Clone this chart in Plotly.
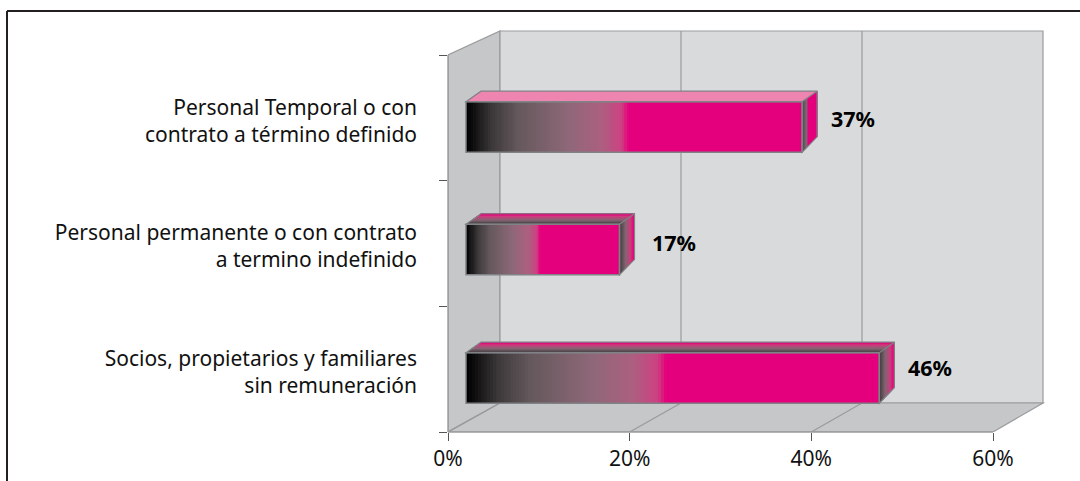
import plotly.graph_objects as go

# ---------- data ----------
categories = [
    "Socios, propietarios y familiares<br>sin remuneración",
    "Personal permanente o con contrato<br>a termino indefinido",
    "Personal Temporal o con<br>contrato a término definido",
]
bar_lengths = [45.5, 16.9, 37.0]
data_labels = ["46%", "17%", "37%"]
x_ticks = [0, 20, 40, 60]
x_tick_labels = ["0%", "20%", "40%", "60%"]

# ---------- layout constants ----------
W, H = 1080, 481
X0_PX, X60_PX = 448, 993
BACK_LEFT_PX, BACK_RIGHT_PX = 500, 1043
FLOOR_PX, TOP_PX = 432, 31
CAT_TOP_PX = 55
PLOT_RIGHT_PX, PLOT_TOP_PX = 1047, 27
PX_PCT = (X60_PX - X0_PX) / 60
PX_CAT = (FLOOR_PX - CAT_TOP_PX) / 3
X_MAX = (PLOT_RIGHT_PX - X0_PX) / PX_PCT
Y_MIN = -0.5
Y_MAX = Y_MIN + (FLOOR_PX - PLOT_TOP_PX) / PX_CAT
Y_WALL_TOP = Y_MIN + (FLOOR_PX - TOP_PX) / PX_CAT

WALL_DX = (BACK_LEFT_PX - X0_PX) / PX_PCT
BACK_SCALE = (BACK_RIGHT_PX - BACK_LEFT_PX) / (X60_PX - X0_PX)
FLOOR_DY = (FLOOR_PX - 403) / PX_CAT

BAR_X0 = 18 / PX_PCT
BAR_HALF = 25.3 / PX_CAT
BAR_SHIFT = [-0.07, -0.048, -0.073]
DEPTH_DX = 15 / PX_PCT
DEPTH_DY_TOP = 10.5 / PX_CAT
DEPTH_DY_BOT = 15.5 / PX_CAT
LABEL_DX = [51, 54, 51]
LABEL_DY = [2, 1, -1]

WALL_BACK = "#D9DADC"
WALL_SIDE = "#C6C7C9"
GRID = "#9A9B9D"
EDGE = "#808285"
PINK = (228, 0, 124)
FONT = "Noto Sans"
TEXT = "#111111"

FRONT_STOPS = [
    (0.0, (0, 0, 0)), (0.07, (58, 54, 56)), (0.15, (100, 88, 92)),
    (0.30, (142, 104, 120)), (0.40, (172, 95, 128)), (0.46, (205, 65, 130)),
    (0.48, PINK), (1.0, PINK),
]
DEPTH_STOPS = [(0.0, (66, 62, 64)), (0.35, (130, 100, 114)), (0.7, (205, 60, 125)), (0.9, PINK), (1.0, PINK)]
SIDE_BAR1_STOPS = [(0.0, (80, 76, 78)), (0.28, (130, 110, 120)), (0.34, PINK), (1.0, PINK)]
TOP_BAR1_STOPS = [(0.0, (238, 133, 176)), (1.0, (238, 133, 176))]


def back_x(v):
    return WALL_DX + v * BACK_SCALE


def ramp(stops, t):
    for (a, ca), (b, cb) in zip(stops, stops[1:]):
        if t <= b:
            f = 0 if b == a else (t - a) / (b - a)
            c = [round(p + (q - p) * f) for p, q in zip(ca, cb)]
            return f"rgb({c[0]},{c[1]},{c[2]})"
    c = stops[-1][1]
    return f"rgb({c[0]},{c[1]},{c[2]})"


def poly(points):
    return "M " + " L ".join(f"{x:.4f},{y:.4f}" for x, y in points) + " Z"


def face(points, color=None, layer="above", line=None, width=0):
    d = dict(type="path", xref="x", yref="y", path=poly(points), layer=layer)
    d["fillcolor"] = color if color else "rgba(0,0,0,0)"
    d["line"] = dict(color=line, width=width) if line else dict(width=0)
    return d


shapes = []
# walls and floor
floor_back = Y_MIN + FLOOR_DY
shapes.append(face([(0, Y_MIN), (0, 2.5), (back_x(0), Y_WALL_TOP), (back_x(0), floor_back)],
                   WALL_SIDE, "below", GRID, 1.2))
shapes.append(face([(back_x(0), floor_back), (back_x(0), Y_WALL_TOP),
                    (back_x(x_ticks[-1]), Y_WALL_TOP), (back_x(x_ticks[-1]), floor_back)],
                   WALL_BACK, "below", GRID, 1.2))
shapes.append(face([(0, Y_MIN), (back_x(0), floor_back), (back_x(x_ticks[-1]), floor_back), (x_ticks[-1], Y_MIN)],
                   WALL_SIDE, "below", GRID, 1.2))
for v in x_ticks[1:-1]:
    shapes.append(dict(type="line", xref="x", yref="y", x0=back_x(v), x1=back_x(v),
                       y0=floor_back, y1=Y_WALL_TOP, layer="below", line=dict(color=GRID, width=1.2)))
for v in x_ticks[:-1]:
    shapes.append(dict(type="line", xref="x", yref="y", x0=v, x1=back_x(v),
                       y0=Y_MIN, y1=floor_back, layer="below", line=dict(color=GRID, width=1.2)))
# front edges of the floor and left wall (plot-area edges, so drawn unclipped)
shapes.append(dict(type="line", xref="paper", yref="paper", x0=X0_PX / W, x1=X0_PX / W,
                   y0=1 - FLOOR_PX / H, y1=1 - CAT_TOP_PX / H, line=dict(color=GRID, width=1.4)))
shapes.append(dict(type="line", xref="paper", yref="paper", x0=X0_PX / W, x1=X60_PX / W,
                   y0=1 - FLOOR_PX / H, y1=1 - FLOOR_PX / H, line=dict(color=GRID, width=1.4)))

# outer frame (open on the right and at the bottom)
shapes.append(dict(type="line", xref="paper", yref="paper", x0=7 / W, x1=7 / W, y0=0, y1=1 - 11 / H,
                   line=dict(color="#231F20", width=2)))
shapes.append(dict(type="line", xref="paper", yref="paper", x0=7 / W, x1=1, y0=1 - 11 / H, y1=1 - 11 / H,
                   line=dict(color="#231F20", width=2)))

fig = go.Figure()
N_FRONT = 140
N_DEPTH = 14
for i, (cat, length) in enumerate(zip(categories, bar_lengths)):
    ts = [k / N_FRONT for k in range(N_FRONT)]
    fig.add_trace(go.Bar(
        y=[cat] * N_FRONT,
        x=[(1 - t) * length for t in ts],
        base=[BAR_X0 + t * length for t in ts],
        orientation="h",
        width=2 * BAR_HALF,
        offset=BAR_SHIFT[i] - BAR_HALF,
        marker=dict(color=[ramp(FRONT_STOPS, t) for t in ts], line=dict(width=0)),
        hoverinfo="skip",
        showlegend=False,
    ))
    xl, xr = BAR_X0, BAR_X0 + length
    yb, yt = i + BAR_SHIFT[i] - BAR_HALF, i + BAR_SHIFT[i] + BAR_HALF
    side_stops = SIDE_BAR1_STOPS if i == 2 else DEPTH_STOPS
    top_stops = TOP_BAR1_STOPS if i == 2 else DEPTH_STOPS
    for k in range(N_DEPTH):
        t = k / N_DEPTH
        # top face: from the front edge towards the back
        shapes.append(face([(xl + t * DEPTH_DX, yt + t * DEPTH_DY_TOP),
                            (xl + DEPTH_DX, yt + DEPTH_DY_TOP),
                            (xr + DEPTH_DX, yt + DEPTH_DY_TOP),
                            (xr + t * DEPTH_DX, yt + t * DEPTH_DY_TOP)], ramp(top_stops, t)))
        # side face
        shapes.append(face([(xr + t * DEPTH_DX, yt + t * DEPTH_DY_TOP),
                            (xr + DEPTH_DX, yt + DEPTH_DY_TOP),
                            (xr + DEPTH_DX, yb + DEPTH_DY_BOT),
                            (xr + t * DEPTH_DX, yb + t * DEPTH_DY_BOT)], ramp(side_stops, t)))
    # edges
    shapes.append(face([(xl, yb), (xl, yt), (xr, yt), (xr, yb)], None, "above", EDGE, 1.5))
    shapes.append(face([(xl, yt), (xl + DEPTH_DX, yt + DEPTH_DY_TOP), (xr + DEPTH_DX, yt + DEPTH_DY_TOP),
                        (xr + DEPTH_DX, yb + DEPTH_DY_BOT), (xr, yb), (xr, yt)], None, "above", EDGE, 1.2))
    shapes.append(dict(type="line", xref="x", yref="y", x0=xr, x1=xr + DEPTH_DX, y0=yt, y1=yt + DEPTH_DY_TOP,
                       layer="above", line=dict(color=EDGE, width=1.2)))

annotations = [
    dict(x=BAR_X0 + length, y=i, xref="x", yref="y", text=f"<b>{lab}</b>", showarrow=False,
         xshift=LABEL_DX[i], yshift=LABEL_DY[i],
         font=dict(family=FONT, size=21.5, color="#000000"))
    for i, (length, lab) in enumerate(zip(bar_lengths, data_labels))
]

fig.update_layout(
    width=W, height=H, template="none",
    margin=dict(l=0, r=0, t=0, b=0, pad=0),
    paper_bgcolor="white", plot_bgcolor="rgba(0,0,0,0)",
    barmode="overlay", bargap=0, showlegend=False, hovermode=False,
    shapes=shapes, annotations=annotations,
    font=dict(family=FONT, size=21, color=TEXT),
    xaxis=dict(
        domain=[X0_PX / W, PLOT_RIGHT_PX / W], range=[0, X_MAX], type="linear",
        tickmode="array", tickvals=x_ticks, ticktext=x_tick_labels,
        ticks="outside", ticklen=8, tickwidth=1.2, tickcolor="#555555",
        showgrid=False, zeroline=False, showline=False, automargin=False,
        tickfont=dict(family=FONT, size=21, color=TEXT),
    ),
    yaxis=dict(
        domain=[1 - FLOOR_PX / H, 1 - PLOT_TOP_PX / H], range=[Y_MIN, Y_MAX], type="category",
        categoryorder="array", categoryarray=categories,
        tickson="boundaries", ticks="outside", ticklen=8, tickwidth=1.2, tickcolor="#555555",
        ticklabelstandoff=30, ticklabelshift=3,
        showgrid=False, zeroline=False, showline=False, automargin=False,
        tickfont=dict(family=FONT, size=21, color=TEXT),
    ),
)

fig.write_html("out.html", config={"displayModeBar": False},
               post_script="document.body.style.margin='0';")
